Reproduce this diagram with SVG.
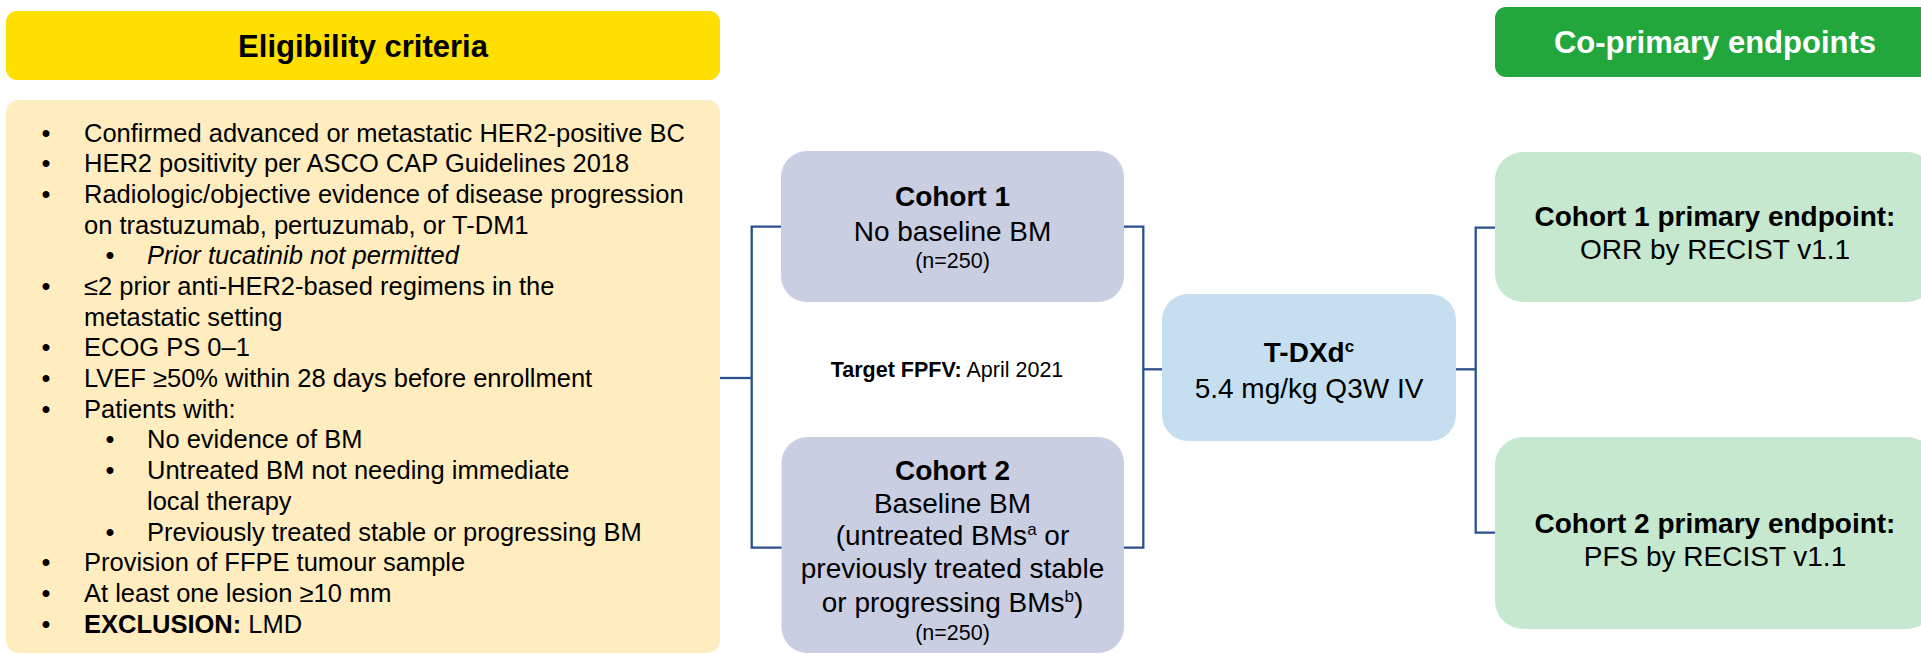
<svg xmlns="http://www.w3.org/2000/svg" width="1921" height="654" viewBox="0 0 1921 654">
<style>
text{font-family:"Liberation Sans",Arial,sans-serif;fill:#000}
.el{font-size:25.5px}
.b{font-weight:bold}
.i{font-style:italic}
.hd{font-size:31px;font-weight:bold}
.bx{font-size:28px;text-anchor:middle}
.sm{font-size:21.5px;text-anchor:middle}
.bu{text-anchor:middle}
.conn{fill:none;stroke:#2B4F8C;stroke-width:2.3}
</style>
<rect width="1921" height="654" fill="#fff"/>
<g id="elig-header">
<rect x="6" y="11" width="714" height="69" rx="11" fill="#FEDF00"/>
<text class="hd" x="363" y="57.3" text-anchor="middle">Eligibility criteria</text>
</g>
<g id="elig-criteria">
<rect x="6" y="100" width="714" height="553" rx="13" fill="#FFECBF"/>
<g class="el">
<text class="el bu" x="46" y="141.5">•</text><text class="el" x="84" y="141.5">Confirmed advanced or metastatic HER2-positive BC</text>
<text class="el bu" x="46" y="172">•</text><text class="el" x="84" y="172">HER2 positivity per ASCO CAP Guidelines 2018</text>
<text class="el bu" x="46" y="203">•</text><text class="el" x="84" y="203">Radiologic/objective evidence of disease progression</text>
<text class="el" x="84" y="233.5">on trastuzumab, pertuzumab, or T-DM1</text>
<text class="el bu" x="110" y="264">•</text><text class="el i" x="147" y="264">Prior tucatinib not permitted</text>
<text class="el bu" x="46" y="295">•</text><text class="el" x="84" y="295">≤2 prior anti-HER2-based regimens in the</text>
<text class="el" x="84" y="325.5">metastatic setting</text>
<text class="el bu" x="46" y="356">•</text><text class="el" x="84" y="356">ECOG PS 0–1</text>
<text class="el bu" x="46" y="387">•</text><text class="el" x="84" y="387">LVEF ≥50% within 28 days before enrollment</text>
<text class="el bu" x="46" y="417.5">•</text><text class="el" x="84" y="417.5">Patients with:</text>
<text class="el bu" x="110" y="448">•</text><text class="el" x="147" y="448">No evidence of BM</text>
<text class="el bu" x="110" y="479">•</text><text class="el" x="147" y="479">Untreated BM not needing immediate</text>
<text class="el" x="147" y="509.5">local therapy</text>
<text class="el bu" x="110" y="540.5">•</text><text class="el" x="147" y="540.5">Previously treated stable or progressing BM</text>
<text class="el bu" x="46" y="571">•</text><text class="el" x="84" y="571">Provision of FFPE tumour sample</text>
<text class="el bu" x="46" y="602">•</text><text class="el" x="84" y="602">At least one lesion ≥10 mm</text>
<text class="el bu" x="46" y="633">•</text><text class="el" x="84" y="633"><tspan class="b">EXCLUSION:</tspan> LMD</text>
</g>
</g>
<g id="connectors">
<path class="conn" d="M720 378H751.7"/>
<path class="conn" d="M781 226.7H751.7V547.7H782"/>
<path class="conn" d="M1124 226.7H1143.3V547.7H1124"/>
<path class="conn" d="M1143.3 369.3H1162"/>
<path class="conn" d="M1456 369.3H1475.7"/>
<path class="conn" d="M1495 227.7H1475.7V532.7H1495"/>
</g>
<g id="cohort1">
<rect x="781" y="151" width="343" height="151" rx="26" fill="#C9CEE2"/>
<text class="bx b" x="952.5" y="206">Cohort 1</text>
<text class="bx" x="952.5" y="241">No baseline BM</text>
<text class="sm" x="952.5" y="267.5">(n=250)</text>
</g>
<g id="fpfv">
<text class="sm" x="947" y="376.5"><tspan class="b">Target FPFV:</tspan> April 2021</text>
</g>
<g id="cohort2">
<rect x="781.5" y="437" width="342.5" height="216" rx="26" fill="#C9CEE2"/>
<text class="bx b" x="952.5" y="479.5">Cohort 2</text>
<text class="bx" x="952.5" y="512.7">Baseline BM</text>
<text class="bx" x="952.5" y="544.7">(untreated BMs<tspan font-size="17" dy="-10">a</tspan><tspan dy="10"> or</tspan></text>
<text class="bx" x="952.5" y="578">previously treated stable</text>
<text class="bx" x="952.5" y="612">or progressing BMs<tspan font-size="17" dy="-10">b</tspan><tspan dy="10">)</tspan></text>
<text class="sm" x="952.5" y="640">(n=250)</text>
</g>
<g id="tdxd">
<rect x="1162" y="294" width="294" height="147" rx="26" fill="#C5DFF0"/>
<text class="bx b" x="1309" y="362">T-DXd<tspan font-size="17" dy="-10">c</tspan></text>
<text class="bx" x="1309" y="398">5.4 mg/kg Q3W IV</text>
</g>
<g id="endpoints-header">
<rect x="1495" y="7" width="440" height="70" rx="11" fill="#22A73C"/>
<text class="hd" x="1715" y="53" text-anchor="middle" style="fill:#fff">Co-primary endpoints</text>
</g>
<g id="endpoint1">
<rect x="1495" y="152" width="440" height="150" rx="28" fill="#C6E8CE"/>
<text class="bx b" x="1715" y="225.7">Cohort 1 primary endpoint:</text>
<text class="bx" x="1715" y="259.3">ORR by RECIST v1.1</text>
</g>
<g id="endpoint2">
<rect x="1495" y="437" width="440" height="192" rx="28" fill="#C6E8CE"/>
<text class="bx b" x="1715" y="533">Cohort 2 primary endpoint:</text>
<text class="bx" x="1715" y="566">PFS by RECIST v1.1</text>
</g>
</svg>
